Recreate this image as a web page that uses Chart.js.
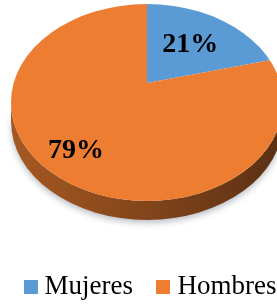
<!DOCTYPE html>
<html>
<head>
<meta charset="utf-8">
<script src="https://cdn.jsdelivr.net/npm/chart.js@4/dist/chart.umd.min.js"></script>
<style>
    html, body { margin: 0; padding: 0; background: #fff; overflow: hidden; }
    #wrap { width: 320px; height: 310px; }
</style>
</head>
<body>
<div id="wrap"><canvas id="myChart"></canvas></div>
<script>
//-------------------------DATA-----------------------------------------------------

var categories = ['Mujeres', 'Hombres'];
var values = [21, 79];                           //percent
var colors = ['#5B9BD5', '#ED7D31'];

//-------------------------3D PIE LOOK------------------------------------------------

function shade(hex, f) {                         //darker version of a colour
    var n = parseInt(hex.slice(1), 16);
    var r = Math.round(((n >> 16) & 255) * f);
    var g = Math.round(((n >> 8) & 255) * f);
    var b = Math.round((n & 255) * f);
    return 'rgb(' + r + ',' + g + ',' + b + ')';
}

function swatch(color) {                         //square legend marker
    var c = document.createElement('canvas');
    c.width = 14;
    c.height = 14;
    var g = c.getContext('2d');
    g.fillStyle = color;
    g.fillRect(0, 0, 14, 14);
    return c;
}

var pie3d = {
    id: 'pie3d',
    beforeDatasetsDraw(chart, args, opts) {
        var arcs = chart.getDatasetMeta(0).data;
        if (!arcs.length) return;
        var ctx = chart.ctx;
        var x0 = arcs[0].x, y0 = arcs[0].y;      //library centre of the pie
        var ax = x0 + opts.offsetX, ay = y0 + opts.offsetY;   //apex on screen
        var k = opts.tilt;
        var rx = opts.rx, ry = opts.rx * k;
        var cx = ax, cy = ay + opts.drop;        //centre of the top face

        function sliceAt(t) {
            var px = cx + rx * Math.cos(t), py = cy + ry * Math.sin(t);
            var a = Math.atan2((py - ay) / k, px - ax);
            for (let i = 0; i < arcs.length; i++) {
                var s = arcs[i].startAngle, e = arcs[i].endAngle;
                var b = a;
                while (b < s) b += Math.PI * 2;
                while (b >= s + Math.PI * 2) b -= Math.PI * 2;
                if (b <= e) return i;
            }
            return 0;
        }

        // side wall (front half only)
        var runs = [];
        var steps = 180;
        var prev = 0;
        for (let i = 0; i <= steps; i++) {
            var t = Math.PI * i / steps;
            var idx = sliceAt(t);
            if (runs.length && runs[runs.length - 1].idx === idx) {
                runs[runs.length - 1].end = t;
            } else {
                runs.push({idx: idx, start: prev, end: t});
            }
            prev = t;
        }
        ctx.save();
        ctx.shadowColor = 'rgba(60,70,90,0.35)';
        ctx.shadowBlur = 6;
        ctx.shadowOffsetY = 3;
        for (let r of runs) {
            var base = chart.data.datasets[0].backgroundColor[r.idx];
            var grad = ctx.createLinearGradient(cx - rx, 0, cx + rx, 0);
            grad.addColorStop(0, shade(base, 0.70));
            grad.addColorStop(0.5, shade(base, 0.55));
            grad.addColorStop(1, shade(base, 0.38));
            ctx.fillStyle = grad;
            ctx.beginPath();
            ctx.ellipse(cx, cy, rx, ry, 0, r.start, r.end);
            ctx.ellipse(cx, cy + opts.depth, rx, ry, 0, r.end, r.start, true);
            ctx.closePath();
            ctx.fill();
        }
        ctx.restore();

        // top face: the library's slices, tilted and cut to the ellipse
        ctx.save();
        ctx.beginPath();
        ctx.ellipse(cx, cy, rx, ry, 0, 0, Math.PI * 2);
        ctx.clip();
        ctx.translate(ax, ay);
        ctx.scale(1, k);
        ctx.translate(-x0, -y0);
    },
    afterDatasetsDraw(chart, args, opts) {
        var arcs = chart.getDatasetMeta(0).data;
        if (!arcs.length) return;
        var ctx = chart.ctx;
        ctx.restore();

        var ax = arcs[0].x + opts.offsetX, ay = arcs[0].y + opts.offsetY;
        var k = opts.tilt;
        var rx = opts.rx, ry = opts.rx * k;
        var drop = opts.drop;
        var data = chart.data.datasets[0].data;
        var total = data.reduce((a, b) => a + b, 0);

        ctx.save();
        ctx.font = opts.font;
        ctx.fillStyle = '#000';
        ctx.textAlign = 'center';
        ctx.textBaseline = 'middle';
        for (let i = 0; i < arcs.length; i++) {
            var m = (arcs[i].startAngle + arcs[i].endAngle) / 2;
            var ux = Math.cos(m), uy = k * Math.sin(m);
            var len = Math.hypot(ux, uy);
            ux /= len; uy /= len;
            //distance from apex to rim along this direction
            var qa = (ux / rx) ** 2 + (uy / ry) ** 2;
            var qb = -2 * uy * drop / (ry * ry);
            var qc = (drop / ry) ** 2 - 1;
            var s = (-qb + Math.sqrt(qb * qb - 4 * qa * qc)) / (2 * qa);
            var f = opts.labelPos[i];
            ctx.fillText(Math.round(data[i] / total * 100) + '%', ax + ux * s * f, ay + uy * s * f + 2);
        }
        ctx.restore();
    }
};

//-------------------------CHART----------------------------------------------------

var baseLabels = (Chart.overrides.doughnut || Chart.overrides.pie).plugins.legend.labels.generateLabels;

var ctx = document.getElementById('myChart').getContext('2d');
var chart = new Chart(ctx, {
    type: 'pie',
    data: {
        labels: categories,
        datasets: [{
            data: values,
            backgroundColor: colors,
            borderWidth: 0,
            radius: 240,
            clip: false
        }]
    },
    options: {
        responsive: true,
        maintainAspectRatio: false,
        animation: false,
        events: [],
        plugins: {
            tooltip: {enabled: false},
            legend: {
                position: 'bottom',
                align: 'start',
                labels: {
                    color: '#000',
                    usePointStyle: true,
                    boxWidth: 1,
                    padding: 30,
                    font: {family: "'Liberation Serif', 'Times New Roman', serif", size: 27},
                    generateLabels(chart) {
                        var items = baseLabels(chart);
                        items.forEach(it => { it.pointStyle = swatch(it.fillStyle); });
                        return items;
                    }
                }
            },
            pie3d: {
                tilt: 0.724,
                rx: 136,
                drop: 19.5,
                depth: 19,
                offsetX: -13,
                offsetY: -38.5,
                labelPos: [0.62, 0.74],
                font: "bold 28px 'Liberation Serif', 'Times New Roman', serif"
            }
        }
    },
    plugins: [pie3d]
});
</script>
</body>
</html>
